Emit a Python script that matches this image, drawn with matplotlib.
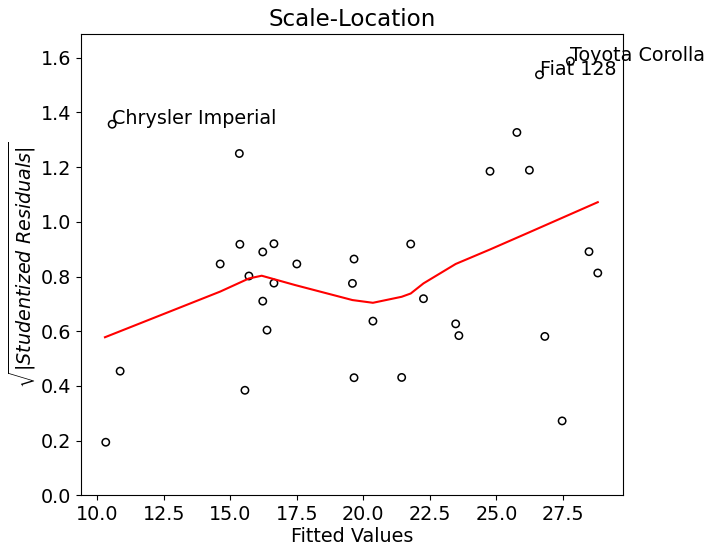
import numpy as np
import matplotlib.pyplot as plt

# fitted values and sqrt(|studentized residuals|)
fitted = [10.56, 15.34, 15.36, 16.22, 16.64, 14.62, 17.50, 19.65, 15.70,
          10.32, 10.86, 15.55, 16.22, 16.38, 16.64, 19.59, 19.65, 20.36,
          22.26, 23.47, 23.59, 21.44, 26.82, 27.47, 28.81, 27.78, 26.62,
          25.77, 24.76, 26.24, 21.78, 28.48]
sqrt_resid = [1.357, 1.250, 0.918, 0.890, 0.920, 0.846, 0.846, 0.864, 0.802,
              0.194, 0.454, 0.384, 0.710, 0.604, 0.776, 0.775, 0.430, 0.637,
              0.719, 0.627, 0.584, 0.431, 0.581, 0.272, 0.813, 1.588, 1.538,
              1.327, 1.185, 1.189, 0.919, 0.891]

# lowess smoother vertices
lowess_x = [10.29, 14.62, 15.70, 16.18, 17.43, 19.59, 20.36, 21.44, 21.78,
            22.26, 23.47, 24.76, 26.24, 28.81]
lowess_y = [0.578, 0.745, 0.793, 0.803, 0.769, 0.714, 0.704, 0.726, 0.738,
            0.775, 0.846, 0.899, 0.962, 1.072]

# labelled outliers
labels = ["Chrysler Imperial", "Toyota Corolla", "Fiat 128"]
label_idx = [0, 25, 26]

plt.rcParams['font.size'] = 13.8

fig = plt.figure(figsize=(7.2, 5.55), dpi=100)
ax = fig.add_axes([0.112, 0.1076, 0.753, 0.8311])

ax.scatter(fitted, sqrt_resid, s=28, facecolors='none', edgecolors='k', linewidths=1.1)
ax.plot(lowess_x, lowess_y, color='red', lw=1.5)

for name, i in zip(labels, label_idx):
    ax.annotate(name, xy=(fitted[i], sqrt_resid[i]))

ax.set_xlim(9.376, 29.75)
ax.set_ylim(0, 1.687)
ax.set_xticks(np.arange(10, 28.1, 2.5))
ax.set_yticks(np.arange(0, 1.61, 0.2))
ax.set_title("Scale-Location")
ax.set_xlabel("Fitted Values", labelpad=2)
ax.set_ylabel(r"$\sqrt{|Studentized \ Residuals|}$", labelpad=2)

fig.savefig("out.png", dpi=100)
